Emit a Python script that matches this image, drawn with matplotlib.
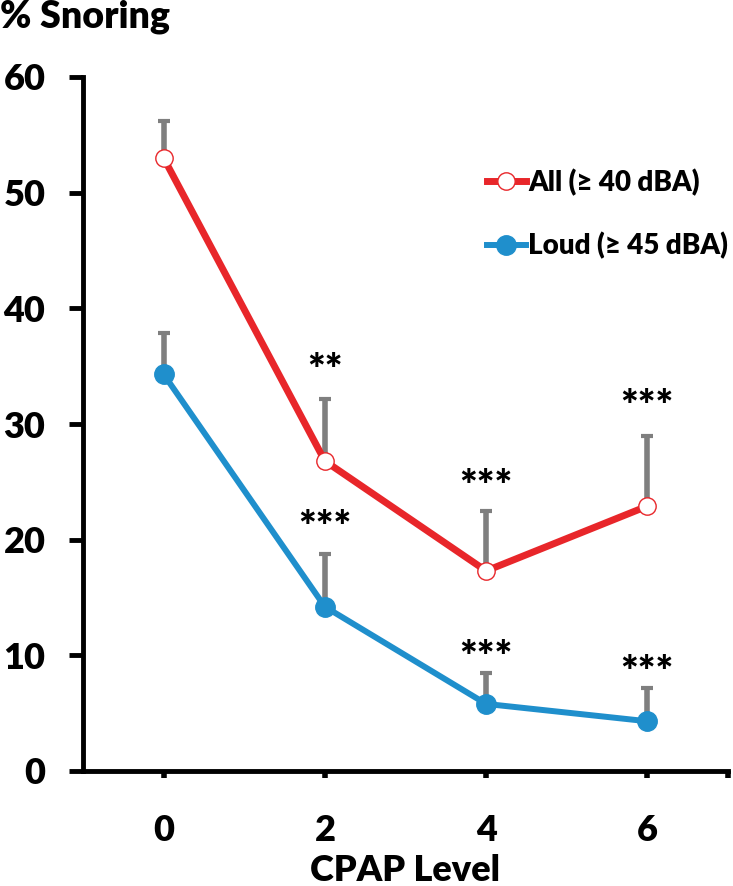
import numpy as np
import matplotlib
matplotlib.use("Agg")
import matplotlib.pyplot as plt

plt.rcParams['font.family'] = ['Lato', 'DejaVu Sans']
plt.rcParams['font.weight'] = 'heavy'

# data
cpap = [0, 2, 4, 6]
all_snoring = [53.0, 26.8, 17.3, 22.9]
all_err_up = [3.2, 5.4, 5.2, 6.1]
loud_snoring = [34.3, 14.2, 5.8, 4.3]
loud_err_up = [3.6, 4.6, 2.7, 2.9]

# significance marks
all_stars = ['', '**', '***', '***']
all_star_y = [0, 35.4, 25.4, 32.3]
loud_stars = ['', '***', '***', '***']
loud_star_y = [0, 21.8, 10.6, 9.3]

red = '#e8262a'
blue = '#1f8fcc'
grey = '#7f7f7f'

fig = plt.figure(figsize=(7.33, 8.86), dpi=100)
ax = fig.add_axes([83/733, 1 - 771/886, 645/733, 694/886])

# error bars (upper only)
ax.errorbar(cpap, all_snoring, yerr=[np.zeros(4), all_err_up], fmt='none',
            ecolor=grey, elinewidth=4, capsize=4, capthick=3, zorder=1)
ax.errorbar(cpap, loud_snoring, yerr=[np.zeros(4), loud_err_up], fmt='none',
            ecolor=grey, elinewidth=4, capsize=4, capthick=3, zorder=1)

ax.plot(cpap, all_snoring, color=red, lw=5, marker='o', ms=12.5,
        mfc='white', mec=red, mew=1, label='All (\u2265 40 dBA)', zorder=3)
ax.plot(cpap, loud_snoring, color=blue, lw=4.3, marker='o', ms=14,
        mfc=blue, mec=blue, label='Loud (\u2265 45 dBA)', zorder=3)

for x, s, y in zip(cpap, all_stars, all_star_y):
    if s:
        ax.text(x, y - 0.9, s, ha='center', va='center', fontsize=30)
for x, s, y in zip(cpap, loud_stars, loud_star_y):
    if s:
        ax.text(x, y - 0.9, s, ha='center', va='center', fontsize=30)

ax.set_xlim(-1, 7)
ax.set_ylim(0, 60)
ax.set_yticks(range(0, 61, 10))
ax.set_xticks([0, 2, 4, 6, 7])
ax.set_xticklabels(['0', '2', '4', '6', ''])

for side in ['top', 'right']:
    ax.spines[side].set_visible(False)
for side in ['left', 'bottom']:
    ax.spines[side].set_linewidth(3.5)

ax.tick_params(axis='y', direction='out', length=10, width=3.5, pad=17, labelsize=26)
ax.tick_params(axis='x', direction='out', length=5, width=4, pad=26, labelsize=26)

ax.set_xlabel('CPAP Level', fontsize=26, fontweight='heavy', labelpad=5)
fig.text(0.0, 1 - 27/886, '% Snoring', fontsize=27, ha='left', va='baseline')

ax.legend(loc='upper left', bbox_to_anchor=(0.626, 0.868), frameon=False,
          fontsize=20, handlelength=1.4, handletextpad=0.1, labelspacing=1.3,
          borderpad=0, borderaxespad=0)

fig.savefig('out.png', dpi=100)
